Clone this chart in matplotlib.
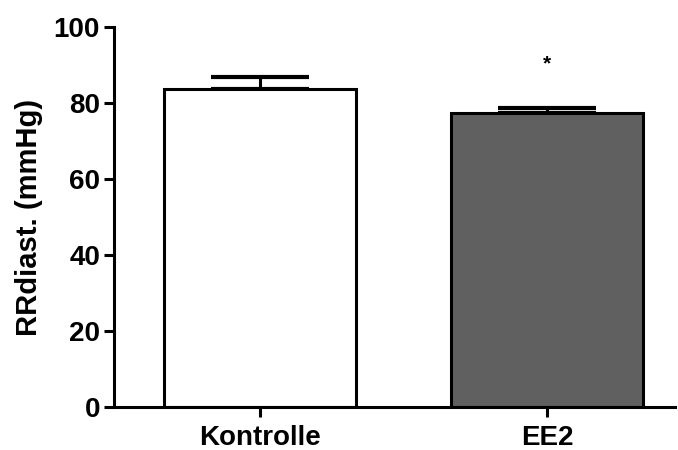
import matplotlib.pyplot as plt

groups = ["Kontrolle", "EE2"]
means = [83.7, 77.4]
sem = [3.1, 1.4]
colors = ["white", "#606060"]

plt.rcParams["font.family"] = ["Liberation Sans", "DejaVu Sans"]
plt.rcParams["font.weight"] = "bold"

fig = plt.figure(figsize=(6.78, 4.5), dpi=100)
ax = fig.add_axes([0.168, 0.0956, 0.828, 0.844])

x = list(range(len(groups)))
ax.bar(x, means, width=0.67, color=colors, edgecolor="black", linewidth=2.2, zorder=2)
ax.errorbar(x, means, yerr=[[0, 0], sem], fmt="none", ecolor="black",
            elinewidth=2.2, capsize=35, capthick=3, zorder=1)
ax.text(1, means[1] + 13, "*", ha="center", va="center", fontsize=15, fontweight="bold")

ax.set_xlim(-0.509, 1.446)
ax.set_ylim(0, 100)
ax.set_yticks(range(0, 101, 20))
ax.set_xticks(x)
ax.set_xticklabels(groups, fontsize=20, fontweight="bold")
ax.tick_params(axis="y", labelsize=20, width=2.2, length=7, pad=3)
ax.tick_params(axis="x", width=2.2, length=7, pad=6)
ax.set_ylabel("RRdiast. (mmHg)", fontsize=21, fontweight="bold", labelpad=8)

for side in ["top", "right"]:
    ax.spines[side].set_visible(False)
for side in ["left", "bottom"]:
    ax.spines[side].set_linewidth(2.2)

fig.savefig("out.png", dpi=100)
